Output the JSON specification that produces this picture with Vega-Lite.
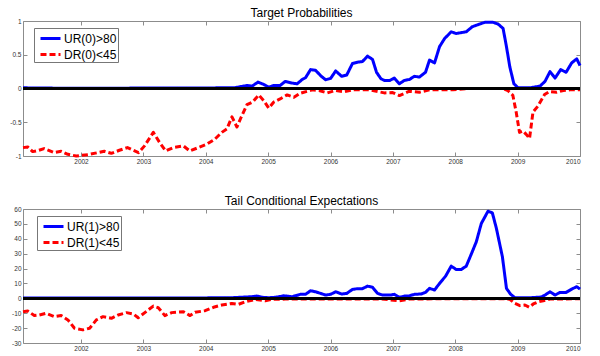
{
  "$schema": "https://vega.github.io/schema/vega-lite/v6.json",
  "background": "white",
  "padding": {"left": 9, "top": 6, "right": 5, "bottom": 2},
  "bounds": "flush",
  "spacing": 53,
  "config": {
    "font": "Liberation Sans",
    "view": {"stroke": "#8c8c8c", "strokeWidth": 1},
    "axis": {"grid": false, "domain": false, "tickColor": "#8c8c8c", "tickSize": -4, "labelFontSize": 6.5, "labelColor": "#333333", "labelPadding": 6, "title": null, "labelFont": "Liberation Sans"},
    "title": {"fontSize": 12, "fontWeight": "normal", "font": "Liberation Sans", "color": "black", "offset": -2},
    "legend": {"fillColor": "white", "strokeColor": "#777777", "padding": 1, "labelFontSize": 12, "labelFont": "Liberation Sans", "labelColor": "black", "symbolType": "M-1.25,0H1.25", "symbolSize": 256, "symbolStrokeWidth": 3, "rowPadding": 0, "labelOffset": 4, "symbolOffset": 6}
  },
  "datasets": {
    "top": [
      {"s": "DR(0)<45", "t": 2001.07, "v": -0.876},
      {"s": "DR(0)<45", "t": 2001.146, "v": -0.866},
      {"s": "DR(0)<45", "t": 2001.226, "v": -0.935},
      {"s": "DR(0)<45", "t": 2001.307, "v": -0.92},
      {"s": "DR(0)<45", "t": 2001.408, "v": -0.89},
      {"s": "DR(0)<45", "t": 2001.569, "v": -0.95},
      {"s": "DR(0)<45", "t": 2001.682, "v": -0.93},
      {"s": "DR(0)<45", "t": 2001.79, "v": -0.975},
      {"s": "DR(0)<45", "t": 2001.924, "v": -1.0},
      {"s": "DR(0)<45", "t": 2002.112, "v": -0.98},
      {"s": "DR(0)<45", "t": 2002.273, "v": -0.95},
      {"s": "DR(0)<45", "t": 2002.374, "v": -0.93},
      {"s": "DR(0)<45", "t": 2002.487, "v": -0.96},
      {"s": "DR(0)<45", "t": 2002.616, "v": -0.915},
      {"s": "DR(0)<45", "t": 2002.745, "v": -0.875},
      {"s": "DR(0)<45", "t": 2002.837, "v": -0.915},
      {"s": "DR(0)<45", "t": 2002.922, "v": -0.95},
      {"s": "DR(0)<45", "t": 2003.018, "v": -0.85},
      {"s": "DR(0)<45", "t": 2003.159, "v": -0.65},
      {"s": "DR(0)<45", "t": 2003.26, "v": -0.8},
      {"s": "DR(0)<45", "t": 2003.357, "v": -0.925},
      {"s": "DR(0)<45", "t": 2003.48, "v": -0.875},
      {"s": "DR(0)<45", "t": 2003.642, "v": -0.85},
      {"s": "DR(0)<45", "t": 2003.743, "v": -0.925},
      {"s": "DR(0)<45", "t": 2003.883, "v": -0.875},
      {"s": "DR(0)<45", "t": 2004.017, "v": -0.825},
      {"s": "DR(0)<45", "t": 2004.146, "v": -0.75},
      {"s": "DR(0)<45", "t": 2004.258, "v": -0.65},
      {"s": "DR(0)<45", "t": 2004.339, "v": -0.6},
      {"s": "DR(0)<45", "t": 2004.42, "v": -0.42},
      {"s": "DR(0)<45", "t": 2004.5, "v": -0.57},
      {"s": "DR(0)<45", "t": 2004.565, "v": -0.43},
      {"s": "DR(0)<45", "t": 2004.661, "v": -0.24},
      {"s": "DR(0)<45", "t": 2004.753, "v": -0.2},
      {"s": "DR(0)<45", "t": 2004.85, "v": -0.095},
      {"s": "DR(0)<45", "t": 2004.93, "v": -0.18},
      {"s": "DR(0)<45", "t": 2005.01, "v": -0.29},
      {"s": "DR(0)<45", "t": 2005.091, "v": -0.2},
      {"s": "DR(0)<45", "t": 2005.192, "v": -0.155},
      {"s": "DR(0)<45", "t": 2005.305, "v": -0.095},
      {"s": "DR(0)<45", "t": 2005.413, "v": -0.13},
      {"s": "DR(0)<45", "t": 2005.514, "v": -0.07},
      {"s": "DR(0)<45", "t": 2005.708, "v": -0.02},
      {"s": "DR(0)<45", "t": 2005.816, "v": -0.03},
      {"s": "DR(0)<45", "t": 2005.95, "v": -0.065},
      {"s": "DR(0)<45", "t": 2006.078, "v": -0.03},
      {"s": "DR(0)<45", "t": 2006.218, "v": -0.05},
      {"s": "DR(0)<45", "t": 2006.352, "v": -0.02},
      {"s": "DR(0)<45", "t": 2006.62, "v": -0.02},
      {"s": "DR(0)<45", "t": 2006.862, "v": -0.065},
      {"s": "DR(0)<45", "t": 2006.996, "v": -0.06},
      {"s": "DR(0)<45", "t": 2007.104, "v": -0.105},
      {"s": "DR(0)<45", "t": 2007.265, "v": -0.04},
      {"s": "DR(0)<45", "t": 2007.426, "v": -0.055},
      {"s": "DR(0)<45", "t": 2007.587, "v": -0.02},
      {"s": "DR(0)<45", "t": 2007.962, "v": -0.02},
      {"s": "DR(0)<45", "t": 2008.231, "v": 0.0},
      {"s": "DR(0)<45", "t": 2008.767, "v": 0.0},
      {"s": "DR(0)<45", "t": 2008.843, "v": -0.03},
      {"s": "DR(0)<45", "t": 2008.923, "v": -0.1},
      {"s": "DR(0)<45", "t": 2008.977, "v": -0.35},
      {"s": "DR(0)<45", "t": 2009.03, "v": -0.65},
      {"s": "DR(0)<45", "t": 2009.085, "v": -0.63},
      {"s": "DR(0)<45", "t": 2009.138, "v": -0.68},
      {"s": "DR(0)<45", "t": 2009.191, "v": -0.74},
      {"s": "DR(0)<45", "t": 2009.246, "v": -0.35},
      {"s": "DR(0)<45", "t": 2009.326, "v": -0.26},
      {"s": "DR(0)<45", "t": 2009.432, "v": -0.09},
      {"s": "DR(0)<45", "t": 2009.513, "v": -0.045},
      {"s": "DR(0)<45", "t": 2009.626, "v": -0.055},
      {"s": "DR(0)<45", "t": 2009.733, "v": -0.03},
      {"s": "DR(0)<45", "t": 2009.841, "v": -0.02},
      {"s": "DR(0)<45", "t": 2010.0, "v": -0.02},
      {"s": "UR(0)>80", "t": 2001.07, "v": 0.01},
      {"s": "UR(0)>80", "t": 2001.6, "v": 0.005},
      {"s": "UR(0)>80", "t": 2002.0, "v": 0.003},
      {"s": "UR(0)>80", "t": 2002.5, "v": 0.005},
      {"s": "UR(0)>80", "t": 2003.0, "v": 0.006},
      {"s": "UR(0)>80", "t": 2003.5, "v": 0.006},
      {"s": "UR(0)>80", "t": 2004.0, "v": 0.008},
      {"s": "UR(0)>80", "t": 2004.258, "v": 0.01},
      {"s": "UR(0)>80", "t": 2004.467, "v": 0.012},
      {"s": "UR(0)>80", "t": 2004.661, "v": 0.045},
      {"s": "UR(0)>80", "t": 2004.742, "v": 0.035},
      {"s": "UR(0)>80", "t": 2004.838, "v": 0.095},
      {"s": "UR(0)>80", "t": 2004.93, "v": 0.06},
      {"s": "UR(0)>80", "t": 2005.01, "v": 0.02},
      {"s": "UR(0)>80", "t": 2005.091, "v": 0.045},
      {"s": "UR(0)>80", "t": 2005.192, "v": 0.045},
      {"s": "UR(0)>80", "t": 2005.273, "v": 0.105},
      {"s": "UR(0)>80", "t": 2005.386, "v": 0.08},
      {"s": "UR(0)>80", "t": 2005.466, "v": 0.07},
      {"s": "UR(0)>80", "t": 2005.547, "v": 0.134},
      {"s": "UR(0)>80", "t": 2005.6, "v": 0.16},
      {"s": "UR(0)>80", "t": 2005.68, "v": 0.28},
      {"s": "UR(0)>80", "t": 2005.761, "v": 0.27},
      {"s": "UR(0)>80", "t": 2005.841, "v": 0.19},
      {"s": "UR(0)>80", "t": 2005.922, "v": 0.13},
      {"s": "UR(0)>80", "t": 2006.002, "v": 0.15},
      {"s": "UR(0)>80", "t": 2006.083, "v": 0.26},
      {"s": "UR(0)>80", "t": 2006.18, "v": 0.18},
      {"s": "UR(0)>80", "t": 2006.26, "v": 0.2},
      {"s": "UR(0)>80", "t": 2006.352, "v": 0.37},
      {"s": "UR(0)>80", "t": 2006.432, "v": 0.39},
      {"s": "UR(0)>80", "t": 2006.513, "v": 0.4},
      {"s": "UR(0)>80", "t": 2006.593, "v": 0.48},
      {"s": "UR(0)>80", "t": 2006.674, "v": 0.43},
      {"s": "UR(0)>80", "t": 2006.738, "v": 0.24},
      {"s": "UR(0)>80", "t": 2006.808, "v": 0.145},
      {"s": "UR(0)>80", "t": 2006.862, "v": 0.12},
      {"s": "UR(0)>80", "t": 2006.952, "v": 0.12},
      {"s": "UR(0)>80", "t": 2007.023, "v": 0.155},
      {"s": "UR(0)>80", "t": 2007.104, "v": 0.07},
      {"s": "UR(0)>80", "t": 2007.184, "v": 0.12},
      {"s": "UR(0)>80", "t": 2007.265, "v": 0.134},
      {"s": "UR(0)>80", "t": 2007.345, "v": 0.18},
      {"s": "UR(0)>80", "t": 2007.426, "v": 0.17},
      {"s": "UR(0)>80", "t": 2007.523, "v": 0.24},
      {"s": "UR(0)>80", "t": 2007.587, "v": 0.42},
      {"s": "UR(0)>80", "t": 2007.668, "v": 0.38},
      {"s": "UR(0)>80", "t": 2007.748, "v": 0.62},
      {"s": "UR(0)>80", "t": 2007.829, "v": 0.74},
      {"s": "UR(0)>80", "t": 2007.935, "v": 0.84},
      {"s": "UR(0)>80", "t": 2008.015, "v": 0.815},
      {"s": "UR(0)>80", "t": 2008.176, "v": 0.84},
      {"s": "UR(0)>80", "t": 2008.273, "v": 0.915},
      {"s": "UR(0)>80", "t": 2008.392, "v": 0.955},
      {"s": "UR(0)>80", "t": 2008.473, "v": 0.98},
      {"s": "UR(0)>80", "t": 2008.606, "v": 0.98},
      {"s": "UR(0)>80", "t": 2008.687, "v": 0.955},
      {"s": "UR(0)>80", "t": 2008.767, "v": 0.89},
      {"s": "UR(0)>80", "t": 2008.821, "v": 0.62},
      {"s": "UR(0)>80", "t": 2008.875, "v": 0.32},
      {"s": "UR(0)>80", "t": 2008.94, "v": 0.07},
      {"s": "UR(0)>80", "t": 2009.009, "v": 0.01},
      {"s": "UR(0)>80", "t": 2009.197, "v": 0.01},
      {"s": "UR(0)>80", "t": 2009.358, "v": 0.035},
      {"s": "UR(0)>80", "t": 2009.439, "v": 0.105},
      {"s": "UR(0)>80", "t": 2009.519, "v": 0.25},
      {"s": "UR(0)>80", "t": 2009.6, "v": 0.155},
      {"s": "UR(0)>80", "t": 2009.69, "v": 0.28},
      {"s": "UR(0)>80", "t": 2009.777, "v": 0.24},
      {"s": "UR(0)>80", "t": 2009.867, "v": 0.38},
      {"s": "UR(0)>80", "t": 2009.947, "v": 0.44},
      {"s": "UR(0)>80", "t": 2010.0, "v": 0.34}
    ],
    "bot": [
      {"s": "DR(1)<45", "t": 2001.07, "v": -9.0},
      {"s": "DR(1)<45", "t": 2001.146, "v": -8.5},
      {"s": "DR(1)<45", "t": 2001.252, "v": -11.6},
      {"s": "DR(1)<45", "t": 2001.332, "v": -11.2},
      {"s": "DR(1)<45", "t": 2001.44, "v": -10.1},
      {"s": "DR(1)<45", "t": 2001.574, "v": -12.3},
      {"s": "DR(1)<45", "t": 2001.682, "v": -11.6},
      {"s": "DR(1)<45", "t": 2001.79, "v": -14.5},
      {"s": "DR(1)<45", "t": 2001.896, "v": -20.1},
      {"s": "DR(1)<45", "t": 2002.031, "v": -21.2},
      {"s": "DR(1)<45", "t": 2002.138, "v": -20.1},
      {"s": "DR(1)<45", "t": 2002.246, "v": -14.5},
      {"s": "DR(1)<45", "t": 2002.353, "v": -12.3},
      {"s": "DR(1)<45", "t": 2002.487, "v": -13.4},
      {"s": "DR(1)<45", "t": 2002.595, "v": -11.2},
      {"s": "DR(1)<45", "t": 2002.729, "v": -9.6},
      {"s": "DR(1)<45", "t": 2002.837, "v": -10.5},
      {"s": "DR(1)<45", "t": 2002.917, "v": -13.0},
      {"s": "DR(1)<45", "t": 2003.023, "v": -9.6},
      {"s": "DR(1)<45", "t": 2003.159, "v": -5.2},
      {"s": "DR(1)<45", "t": 2003.239, "v": -6.3},
      {"s": "DR(1)<45", "t": 2003.345, "v": -11.6},
      {"s": "DR(1)<45", "t": 2003.453, "v": -9.6},
      {"s": "DR(1)<45", "t": 2003.642, "v": -9.0},
      {"s": "DR(1)<45", "t": 2003.748, "v": -11.6},
      {"s": "DR(1)<45", "t": 2003.828, "v": -9.4},
      {"s": "DR(1)<45", "t": 2003.989, "v": -8.3},
      {"s": "DR(1)<45", "t": 2004.125, "v": -6.0},
      {"s": "DR(1)<45", "t": 2004.258, "v": -4.5},
      {"s": "DR(1)<45", "t": 2004.42, "v": -3.4},
      {"s": "DR(1)<45", "t": 2004.527, "v": -4.0},
      {"s": "DR(1)<45", "t": 2004.634, "v": -2.3},
      {"s": "DR(1)<45", "t": 2004.795, "v": -0.7},
      {"s": "DR(1)<45", "t": 2004.956, "v": -1.6},
      {"s": "DR(1)<45", "t": 2005.064, "v": -0.7},
      {"s": "DR(1)<45", "t": 2005.278, "v": -0.5},
      {"s": "DR(1)<45", "t": 2005.547, "v": -0.4},
      {"s": "DR(1)<45", "t": 2006.0, "v": -0.4},
      {"s": "DR(1)<45", "t": 2006.8, "v": -0.4},
      {"s": "DR(1)<45", "t": 2007.104, "v": -1.6},
      {"s": "DR(1)<45", "t": 2007.265, "v": -0.5},
      {"s": "DR(1)<45", "t": 2008.0, "v": -0.2},
      {"s": "DR(1)<45", "t": 2008.8, "v": -0.2},
      {"s": "DR(1)<45", "t": 2008.875, "v": -0.7},
      {"s": "DR(1)<45", "t": 2008.956, "v": -3.4},
      {"s": "DR(1)<45", "t": 2009.036, "v": -4.9},
      {"s": "DR(1)<45", "t": 2009.116, "v": -4.5},
      {"s": "DR(1)<45", "t": 2009.186, "v": -6.0},
      {"s": "DR(1)<45", "t": 2009.251, "v": -3.8},
      {"s": "DR(1)<45", "t": 2009.331, "v": -2.3},
      {"s": "DR(1)<45", "t": 2009.411, "v": -1.6},
      {"s": "DR(1)<45", "t": 2009.519, "v": -0.5},
      {"s": "DR(1)<45", "t": 2010.0, "v": -0.3},
      {"s": "UR(1)>80", "t": 2001.07, "v": 0.3},
      {"s": "UR(1)>80", "t": 2002.0, "v": 0.3},
      {"s": "UR(1)>80", "t": 2003.0, "v": 0.3},
      {"s": "UR(1)>80", "t": 2004.0, "v": 0.3},
      {"s": "UR(1)>80", "t": 2004.4, "v": 0.4},
      {"s": "UR(1)>80", "t": 2004.742, "v": 1.1},
      {"s": "UR(1)>80", "t": 2004.822, "v": 1.5},
      {"s": "UR(1)>80", "t": 2004.903, "v": 0.7},
      {"s": "UR(1)>80", "t": 2005.01, "v": 0.4},
      {"s": "UR(1)>80", "t": 2005.117, "v": 0.7},
      {"s": "UR(1)>80", "t": 2005.252, "v": 1.7},
      {"s": "UR(1)>80", "t": 2005.386, "v": 1.1},
      {"s": "UR(1)>80", "t": 2005.52, "v": 2.7},
      {"s": "UR(1)>80", "t": 2005.6, "v": 2.7},
      {"s": "UR(1)>80", "t": 2005.68, "v": 5.1},
      {"s": "UR(1)>80", "t": 2005.761, "v": 4.4},
      {"s": "UR(1)>80", "t": 2005.841, "v": 3.3},
      {"s": "UR(1)>80", "t": 2005.922, "v": 2.2},
      {"s": "UR(1)>80", "t": 2006.002, "v": 2.7},
      {"s": "UR(1)>80", "t": 2006.083, "v": 4.4},
      {"s": "UR(1)>80", "t": 2006.18, "v": 2.9},
      {"s": "UR(1)>80", "t": 2006.26, "v": 3.3},
      {"s": "UR(1)>80", "t": 2006.352, "v": 6.0},
      {"s": "UR(1)>80", "t": 2006.432, "v": 6.5},
      {"s": "UR(1)>80", "t": 2006.513, "v": 6.5},
      {"s": "UR(1)>80", "t": 2006.593, "v": 8.2},
      {"s": "UR(1)>80", "t": 2006.674, "v": 7.4},
      {"s": "UR(1)>80", "t": 2006.754, "v": 3.3},
      {"s": "UR(1)>80", "t": 2006.835, "v": 2.2},
      {"s": "UR(1)>80", "t": 2006.968, "v": 2.2},
      {"s": "UR(1)>80", "t": 2007.023, "v": 2.7},
      {"s": "UR(1)>80", "t": 2007.104, "v": 0.7},
      {"s": "UR(1)>80", "t": 2007.184, "v": 1.5},
      {"s": "UR(1)>80", "t": 2007.265, "v": 1.7},
      {"s": "UR(1)>80", "t": 2007.345, "v": 2.7},
      {"s": "UR(1)>80", "t": 2007.452, "v": 2.9},
      {"s": "UR(1)>80", "t": 2007.523, "v": 4.0},
      {"s": "UR(1)>80", "t": 2007.587, "v": 6.7},
      {"s": "UR(1)>80", "t": 2007.668, "v": 5.6},
      {"s": "UR(1)>80", "t": 2007.748, "v": 10.0},
      {"s": "UR(1)>80", "t": 2007.845, "v": 14.9},
      {"s": "UR(1)>80", "t": 2007.935, "v": 21.6},
      {"s": "UR(1)>80", "t": 2008.015, "v": 19.4},
      {"s": "UR(1)>80", "t": 2008.096, "v": 19.4},
      {"s": "UR(1)>80", "t": 2008.176, "v": 21.6},
      {"s": "UR(1)>80", "t": 2008.257, "v": 29.7},
      {"s": "UR(1)>80", "t": 2008.337, "v": 37.9},
      {"s": "UR(1)>80", "t": 2008.418, "v": 50.3},
      {"s": "UR(1)>80", "t": 2008.525, "v": 58.5},
      {"s": "UR(1)>80", "t": 2008.595, "v": 57.4},
      {"s": "UR(1)>80", "t": 2008.66, "v": 46.9},
      {"s": "UR(1)>80", "t": 2008.756, "v": 27.9},
      {"s": "UR(1)>80", "t": 2008.821, "v": 6.7},
      {"s": "UR(1)>80", "t": 2008.885, "v": 2.9},
      {"s": "UR(1)>80", "t": 2008.956, "v": 0.4},
      {"s": "UR(1)>80", "t": 2009.197, "v": 0.4},
      {"s": "UR(1)>80", "t": 2009.384, "v": 0.9},
      {"s": "UR(1)>80", "t": 2009.439, "v": 2.2},
      {"s": "UR(1)>80", "t": 2009.519, "v": 4.4},
      {"s": "UR(1)>80", "t": 2009.6, "v": 2.2},
      {"s": "UR(1)>80", "t": 2009.68, "v": 4.0},
      {"s": "UR(1)>80", "t": 2009.777, "v": 4.0},
      {"s": "UR(1)>80", "t": 2009.867, "v": 6.2},
      {"s": "UR(1)>80", "t": 2009.947, "v": 7.8},
      {"s": "UR(1)>80", "t": 2010.0, "v": 6.2}
    ]
  },
  "resolve": {"scale": {"color": "independent", "strokeDash": "independent"}, "legend": {"color": "independent", "strokeDash": "independent"}},
  "vconcat": [
    {
      "title": "Target Probabilities",
      "width": 557,
      "height": 135,
      "data": {"name": "top"},
      "resolve": {"axis": {"x": "independent", "y": "independent"}},
      "layer": [
        {
          "mark": {"type": "line", "strokeWidth": 3, "strokeCap": "butt", "strokeJoin": "round"},
          "encoding": {
            "x": {"field": "t", "type": "quantitative", "scale": {"domain": [2001.07, 2010], "nice": false, "zero": false}, "axis": {"values": [2002, 2003, 2004, 2005, 2006, 2007, 2008, 2009, 2010], "format": "d"}},
            "y": {"field": "v", "type": "quantitative", "scale": {"domain": [-1, 1], "nice": false}, "axis": {"values": [-1, -0.5, 0, 0.5, 1], "labelExpr": "datum.value < 0 ? '-' + format(-datum.value, '~g') : format(datum.value, '~g')"}},
            "color": {"field": "s", "type": "nominal", "scale": {"domain": ["UR(0)>80", "DR(0)<45"], "range": ["#0000ff", "#ff0000"]}, "legend": {"title": null, "orient": "none", "legendX": 11, "legendY": 7}},
            "strokeDash": {"field": "s", "type": "nominal", "scale": {"domain": ["UR(0)>80", "DR(0)<45"], "range": [[1, 0], [6, 3]]}, "legend": {"title": null, "orient": "none", "legendX": 11, "legendY": 7}}
          }
        },
        {
          "mark": {"type": "rule", "color": "black", "strokeWidth": 2},
          "encoding": {
            "x": {"datum": 2001.07, "type": "quantitative", "axis": {"orient": "top", "labels": false, "values": [2002, 2003, 2004, 2005, 2006, 2007, 2008, 2009, 2010]}},
            "x2": {"datum": 2010},
            "y": {"datum": 0, "type": "quantitative", "axis": {"orient": "right", "labels": false, "values": [-1, -0.5, 0, 0.5, 1]}}
          }
        }
      ]
    },
    {
      "title": "Tail Conditional Expectations",
      "width": 557,
      "height": 134,
      "data": {"name": "bot"},
      "resolve": {"axis": {"x": "independent", "y": "independent"}},
      "layer": [
        {
          "mark": {"type": "line", "strokeWidth": 3, "strokeCap": "butt", "strokeJoin": "round"},
          "encoding": {
            "x": {"field": "t", "type": "quantitative", "scale": {"domain": [2001.07, 2010], "nice": false, "zero": false}, "axis": {"values": [2002, 2003, 2004, 2005, 2006, 2007, 2008, 2009, 2010], "format": "d"}},
            "y": {"field": "v", "type": "quantitative", "scale": {"domain": [-30, 60], "nice": false}, "axis": {"values": [-30, -20, -10, 0, 10, 20, 30, 40, 50, 60], "labelExpr": "datum.value < 0 ? '-' + format(-datum.value, '~g') : format(datum.value, '~g')"}},
            "color": {"field": "s", "type": "nominal", "scale": {"domain": ["UR(1)>80", "DR(1)<45"], "range": ["#0000ff", "#ff0000"]}, "legend": {"title": null, "orient": "none", "legendX": 14, "legendY": 7}},
            "strokeDash": {"field": "s", "type": "nominal", "scale": {"domain": ["UR(1)>80", "DR(1)<45"], "range": [[1, 0], [6, 3]]}, "legend": {"title": null, "orient": "none", "legendX": 14, "legendY": 7}}
          }
        },
        {
          "mark": {"type": "rule", "color": "black", "strokeWidth": 2},
          "encoding": {
            "x": {"datum": 2001.07, "type": "quantitative", "axis": {"orient": "top", "labels": false, "values": [2002, 2003, 2004, 2005, 2006, 2007, 2008, 2009, 2010]}},
            "x2": {"datum": 2010},
            "y": {"datum": 0, "type": "quantitative", "axis": {"orient": "right", "labels": false, "values": [-30, -20, -10, 0, 10, 20, 30, 40, 50, 60]}}
          }
        }
      ]
    }
  ]
}
